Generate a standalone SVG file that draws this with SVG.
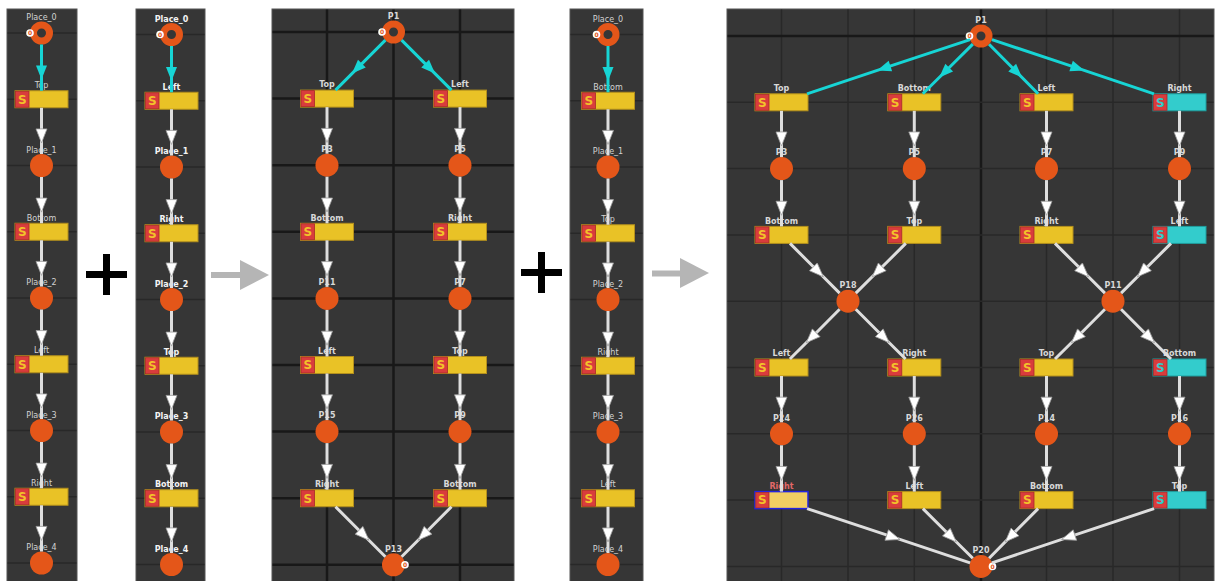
<svg xmlns="http://www.w3.org/2000/svg" width="1216" height="581" viewBox="0 0 1216 581">
<defs>
<style>
.bg{fill:#363636;stroke:#555;stroke-width:1}
.g{stroke:#282828;stroke-width:1.5}
.gk{stroke:#181818;stroke-width:2.5}
.pl{fill:#e45619}
.ring{fill:#363636;stroke:#e45619;stroke-width:7}
.tr{fill:#e9c226;stroke:#b38f1d;stroke-width:1}
.trc{fill:#33cccc;stroke:#1f9e9e;stroke-width:1}
.trh{fill:#f2cf62;stroke:#2424e0;stroke-width:1.5}
.sb{fill:#d93c3c;stroke:#a82a2a;stroke-width:0.8}
.s{font-family:'DejaVu Sans',sans-serif;font-weight:bold;font-size:12px;fill:#f2c22a;text-anchor:middle}
.sc{fill:#33cccc}
.lb{font-family:'DejaVu Sans',sans-serif;font-size:8px;fill:#d2d2d2;text-anchor:middle}
.lbb{font-family:'DejaVu Sans',sans-serif;font-weight:bold;font-size:8px;fill:#f4f4f4;text-anchor:middle}
.lbm{font-family:'DejaVu Sans',sans-serif;font-weight:bold;font-size:8px;fill:#d8d8d8;text-anchor:middle}
.lbr{fill:#e26868}
.w{stroke:#dedede;stroke-width:3;fill:none;marker-mid:url(#aw)}
.t{stroke:#17d5d5;stroke-width:3;fill:none;marker-mid:url(#at)}
.tok{fill:#ffffff}
.tokt{font-family:'DejaVu Sans',sans-serif;font-weight:bold;font-size:6px;fill:#e45619;text-anchor:middle}
.plus{fill:#000}
.garr{fill:#b5b5b5}
</style>
<marker id="aw" markerUnits="userSpaceOnUse" markerWidth="16" markerHeight="14" viewBox="0 0 16 14" refX="3" refY="7" orient="auto"><path d="M1,1.5 L15,7 L1,12.5 Z" fill="#ffffff" stroke="#9a9a9a" stroke-width="0.8"/></marker>
<marker id="at" markerUnits="userSpaceOnUse" markerWidth="16" markerHeight="14" viewBox="0 0 16 14" refX="3" refY="7" orient="auto"><path d="M1,1.5 L15,7 L1,12.5 Z" fill="#17d5d5"/></marker>
</defs>
<rect width="1216" height="581" fill="#ffffff"/>

<!-- panel backgrounds and grids -->
<g id="panels">
<rect class="bg" x="7" y="9" width="70" height="573"/>
<rect class="bg" x="136" y="9" width="69" height="573"/>
<rect class="bg" x="272" y="9" width="242" height="573"/>
<rect class="bg" x="570" y="9" width="73" height="573"/>
<rect class="bg" x="727" y="9" width="487" height="573"/>
<g id="grid1">
<line class="g" x1="7.5" y1="33" x2="76.5" y2="33"/><line class="g" x1="7.5" y1="99.25" x2="76.5" y2="99.25"/><line class="g" x1="7.5" y1="165.5" x2="76.5" y2="165.5"/><line class="g" x1="7.5" y1="231.75" x2="76.5" y2="231.75"/><line class="g" x1="7.5" y1="298" x2="76.5" y2="298"/><line class="g" x1="7.5" y1="364.25" x2="76.5" y2="364.25"/><line class="g" x1="7.5" y1="430.5" x2="76.5" y2="430.5"/><line class="g" x1="7.5" y1="496.75" x2="76.5" y2="496.75"/><line class="g" x1="7.5" y1="563" x2="76.5" y2="563"/>
</g>
<g id="grid2">
<line class="g" x1="136.5" y1="34.5" x2="204.5" y2="34.5"/><line class="g" x1="136.5" y1="100.75" x2="204.5" y2="100.75"/><line class="g" x1="136.5" y1="167" x2="204.5" y2="167"/><line class="g" x1="136.5" y1="233.25" x2="204.5" y2="233.25"/><line class="g" x1="136.5" y1="299.5" x2="204.5" y2="299.5"/><line class="g" x1="136.5" y1="365.75" x2="204.5" y2="365.75"/><line class="g" x1="136.5" y1="432" x2="204.5" y2="432"/><line class="g" x1="136.5" y1="498.25" x2="204.5" y2="498.25"/><line class="g" x1="136.5" y1="564.5" x2="204.5" y2="564.5"/>
</g>
<g id="grid4">
<line class="g" x1="570.5" y1="34.5" x2="642.5" y2="34.5"/><line class="g" x1="570.5" y1="100.75" x2="642.5" y2="100.75"/><line class="g" x1="570.5" y1="167" x2="642.5" y2="167"/><line class="g" x1="570.5" y1="233.25" x2="642.5" y2="233.25"/><line class="g" x1="570.5" y1="299.5" x2="642.5" y2="299.5"/><line class="g" x1="570.5" y1="365.75" x2="642.5" y2="365.75"/><line class="g" x1="570.5" y1="432" x2="642.5" y2="432"/><line class="g" x1="570.5" y1="498.25" x2="642.5" y2="498.25"/><line class="g" x1="570.5" y1="564.5" x2="642.5" y2="564.5"/>
</g>
<g id="grid3">
<line class="gk" x1="327" y1="9.5" x2="327" y2="581"/><line class="gk" x1="393.5" y1="9.5" x2="393.5" y2="581"/><line class="gk" x1="460" y1="9.5" x2="460" y2="581"/>
<line class="gk" x1="272.5" y1="32" x2="513.5" y2="32"/><line class="gk" x1="272.5" y1="98.6" x2="513.5" y2="98.6"/><line class="gk" x1="272.5" y1="165.2" x2="513.5" y2="165.2"/><line class="gk" x1="272.5" y1="231.8" x2="513.5" y2="231.8"/><line class="gk" x1="272.5" y1="298.4" x2="513.5" y2="298.4"/><line class="gk" x1="272.5" y1="365" x2="513.5" y2="365"/><line class="gk" x1="272.5" y1="431.6" x2="513.5" y2="431.6"/><line class="gk" x1="272.5" y1="498.2" x2="513.5" y2="498.2"/><line class="gk" x1="272.5" y1="564.8" x2="513.5" y2="564.8"/>
</g>
<g id="grid5">
<line class="g" x1="781.5" y1="9.5" x2="781.5" y2="581"/><line class="g" x1="848" y1="9.5" x2="848" y2="581"/><line class="g" x1="914.3" y1="9.5" x2="914.3" y2="581"/><line class="gk" x1="981" y1="9.5" x2="981" y2="581"/><line class="g" x1="1046.5" y1="9.5" x2="1046.5" y2="581"/><line class="g" x1="1113" y1="9.5" x2="1113" y2="581"/><line class="g" x1="1179.5" y1="9.5" x2="1179.5" y2="581"/>
<line class="gk" x1="727.5" y1="36" x2="1213.5" y2="36"/><line class="g" x1="727.5" y1="102.3" x2="1213.5" y2="102.3"/><line class="g" x1="727.5" y1="168.6" x2="1213.5" y2="168.6"/><line class="g" x1="727.5" y1="234.9" x2="1213.5" y2="234.9"/><line class="g" x1="727.5" y1="301.2" x2="1213.5" y2="301.2"/><line class="g" x1="727.5" y1="367.5" x2="1213.5" y2="367.5"/><line class="g" x1="727.5" y1="433.8" x2="1213.5" y2="433.8"/><line class="g" x1="727.5" y1="500.1" x2="1213.5" y2="500.1"/><line class="g" x1="727.5" y1="566.4" x2="1213.5" y2="566.4"/>
</g>
</g>

<!-- operators -->
<g id="plus1"><rect class="plus" x="86" y="271" width="41" height="7"/><rect class="plus" x="103" y="254" width="7" height="41"/></g>
<g id="plus2"><rect class="plus" x="521" y="269" width="41" height="7"/><rect class="plus" x="538" y="252" width="7" height="41"/></g>
<g id="arrow1"><rect class="garr" x="211" y="272" width="30" height="6"/><path class="garr" d="M240,260 L269,275 L240,290 Z"/></g>
<g id="arrow2"><rect class="garr" x="652" y="270.5" width="29" height="6"/><path class="garr" d="M680,258 L709,273 L680,288 Z"/></g>

<!-- ===== Panel 1 nodes ===== -->
<g id="a_place0"><text class="lb" x="41.5" y="20">Place_0</text><circle class="ring" cx="41.5" cy="33" r="8"/><circle class="tok" cx="30" cy="33" r="3.8"/><text class="tokt" x="30" y="35.2">0</text></g>
<g id="a_top"><text class="lb" x="41.5" y="88">Top</text><rect class="tr" x="15" y="90.75" width="53" height="17"/><rect class="sb" x="15.5" y="91.25" width="13.5" height="16"/><text class="s" x="22.25" y="103.6">S</text></g>
<g id="a_place1"><text class="lb" x="41.5" y="152.5">Place_1</text><circle class="pl" cx="41.5" cy="165.5" r="11.5"/></g>
<g id="a_bottom"><text class="lb" x="41.5" y="220.5">Bottom</text><rect class="tr" x="15" y="223.25" width="53" height="17"/><rect class="sb" x="15.5" y="223.75" width="13.5" height="16"/><text class="s" x="22.25" y="236.1">S</text></g>
<g id="a_place2"><text class="lb" x="41.5" y="285">Place_2</text><circle class="pl" cx="41.5" cy="298" r="11.5"/></g>
<g id="a_left"><text class="lb" x="41.5" y="353">Left</text><rect class="tr" x="15" y="355.75" width="53" height="17"/><rect class="sb" x="15.5" y="356.25" width="13.5" height="16"/><text class="s" x="22.25" y="368.6">S</text></g>
<g id="a_place3"><text class="lb" x="41.5" y="417.5">Place_3</text><circle class="pl" cx="41.5" cy="430.5" r="11.5"/></g>
<g id="a_right"><text class="lb" x="41.5" y="485.5">Right</text><rect class="tr" x="15" y="488.25" width="53" height="17"/><rect class="sb" x="15.5" y="488.75" width="13.5" height="16"/><text class="s" x="22.25" y="501.1">S</text></g>
<g id="a_place4"><text class="lb" x="41.5" y="550">Place_4</text><circle class="pl" cx="41.5" cy="563" r="11.5"/></g>

<!-- ===== Panel 2 nodes ===== -->
<g id="b_place0"><text class="lbb" x="171.5" y="21.5">Place_0</text><circle class="ring" cx="171.5" cy="34.5" r="8"/><circle class="tok" cx="160" cy="34.5" r="3.8"/><text class="tokt" x="160" y="36.7">0</text></g>
<g id="b_left"><text class="lbb" x="171.5" y="89.5">Left</text><rect class="tr" x="145" y="92.25" width="53" height="17"/><rect class="sb" x="145.5" y="92.75" width="13.5" height="16"/><text class="s" x="152.25" y="105.1">S</text></g>
<g id="b_place1"><text class="lbb" x="171.5" y="154">Place_1</text><circle class="pl" cx="171.5" cy="167" r="11.5"/></g>
<g id="b_right"><text class="lbb" x="171.5" y="222">Right</text><rect class="tr" x="145" y="224.75" width="53" height="17"/><rect class="sb" x="145.5" y="225.25" width="13.5" height="16"/><text class="s" x="152.25" y="237.6">S</text></g>
<g id="b_place2"><text class="lbb" x="171.5" y="286.5">Place_2</text><circle class="pl" cx="171.5" cy="299.5" r="11.5"/></g>
<g id="b_top"><text class="lbb" x="171.5" y="354.5">Top</text><rect class="tr" x="145" y="357.25" width="53" height="17"/><rect class="sb" x="145.5" y="357.75" width="13.5" height="16"/><text class="s" x="152.25" y="370.1">S</text></g>
<g id="b_place3"><text class="lbb" x="171.5" y="419">Place_3</text><circle class="pl" cx="171.5" cy="432" r="11.5"/></g>
<g id="b_bottom"><text class="lbb" x="171.5" y="487">Bottom</text><rect class="tr" x="145" y="489.75" width="53" height="17"/><rect class="sb" x="145.5" y="490.25" width="13.5" height="16"/><text class="s" x="152.25" y="502.6">S</text></g>
<g id="b_place4"><text class="lbb" x="171.5" y="551.5">Place_4</text><circle class="pl" cx="171.5" cy="564.5" r="11.5"/></g>

<!-- ===== Panel 3 nodes ===== -->
<g id="c_p1"><text class="lbm" x="393.5" y="18.5">P1</text><circle class="ring" cx="393.5" cy="32" r="8"/><circle class="tok" cx="382" cy="32" r="3.8"/><text class="tokt" x="382" y="34.2">0</text></g>
<g id="c_top"><text class="lbm" x="327" y="87.3">Top</text><rect class="tr" x="300.5" y="90.1" width="53" height="17"/><rect class="sb" x="301" y="90.6" width="13.5" height="16"/><text class="s" x="307.75" y="102.9">S</text></g>
<g id="c_left1"><text class="lbm" x="460" y="87.3">Left</text><rect class="tr" x="433.5" y="90.1" width="53" height="17"/><rect class="sb" x="434" y="90.6" width="13.5" height="16"/><text class="s" x="440.75" y="102.9">S</text></g>
<g id="c_p3"><text class="lbm" x="327" y="152">P3</text><circle class="pl" cx="327" cy="165.2" r="11.5"/></g>
<g id="c_p5"><text class="lbm" x="460" y="152">P5</text><circle class="pl" cx="460" cy="165.2" r="11.5"/></g>
<g id="c_bottom1"><text class="lbm" x="327" y="220.5">Bottom</text><rect class="tr" x="300.5" y="223.3" width="53" height="17"/><rect class="sb" x="301" y="223.8" width="13.5" height="16"/><text class="s" x="307.75" y="236.1">S</text></g>
<g id="c_right1"><text class="lbm" x="460" y="220.5">Right</text><rect class="tr" x="433.5" y="223.3" width="53" height="17"/><rect class="sb" x="434" y="223.8" width="13.5" height="16"/><text class="s" x="440.75" y="236.1">S</text></g>
<g id="c_p11"><text class="lbm" x="327" y="285.2">P11</text><circle class="pl" cx="327" cy="298.4" r="11.5"/></g>
<g id="c_p7"><text class="lbm" x="460" y="285.2">P7</text><circle class="pl" cx="460" cy="298.4" r="11.5"/></g>
<g id="c_left2"><text class="lbm" x="327" y="353.7">Left</text><rect class="tr" x="300.5" y="356.5" width="53" height="17"/><rect class="sb" x="301" y="357" width="13.5" height="16"/><text class="s" x="307.75" y="369.3">S</text></g>
<g id="c_top2"><text class="lbm" x="460" y="353.7">Top</text><rect class="tr" x="433.5" y="356.5" width="53" height="17"/><rect class="sb" x="434" y="357" width="13.5" height="16"/><text class="s" x="440.75" y="369.3">S</text></g>
<g id="c_p15"><text class="lbm" x="327" y="418.4">P15</text><circle class="pl" cx="327" cy="431.6" r="11.5"/></g>
<g id="c_p9"><text class="lbm" x="460" y="418.4">P9</text><circle class="pl" cx="460" cy="431.6" r="11.5"/></g>
<g id="c_right2"><text class="lbm" x="327" y="486.9">Right</text><rect class="tr" x="300.5" y="489.7" width="53" height="17"/><rect class="sb" x="301" y="490.2" width="13.5" height="16"/><text class="s" x="307.75" y="502.5">S</text></g>
<g id="c_bottom2"><text class="lbm" x="460" y="486.9">Bottom</text><rect class="tr" x="433.5" y="489.7" width="53" height="17"/><rect class="sb" x="434" y="490.2" width="13.5" height="16"/><text class="s" x="440.75" y="502.5">S</text></g>
<g id="c_p13"><text class="lbm" x="393.5" y="551.6">P13</text><circle class="pl" cx="393.5" cy="564.8" r="11.5"/><circle class="tok" cx="405" cy="564.8" r="3.8"/><text class="tokt" x="405" y="567">0</text></g>

<!-- ===== Panel 4 nodes ===== -->
<g id="d_place0"><text class="lb" x="608" y="21.5">Place_0</text><circle class="ring" cx="608" cy="34.5" r="8"/><circle class="tok" cx="596.5" cy="34.5" r="3.8"/><text class="tokt" x="596.5" y="36.7">0</text></g>
<g id="d_bottom"><text class="lb" x="608" y="89.5">Bottom</text><rect class="tr" x="581.5" y="92.25" width="53" height="17"/><rect class="sb" x="582" y="92.75" width="13.5" height="16"/><text class="s" x="588.75" y="105.1">S</text></g>
<g id="d_place1"><text class="lb" x="608" y="154">Place_1</text><circle class="pl" cx="608" cy="167" r="11.5"/></g>
<g id="d_top"><text class="lb" x="608" y="222">Top</text><rect class="tr" x="581.5" y="224.75" width="53" height="17"/><rect class="sb" x="582" y="225.25" width="13.5" height="16"/><text class="s" x="588.75" y="237.6">S</text></g>
<g id="d_place2"><text class="lb" x="608" y="286.5">Place_2</text><circle class="pl" cx="608" cy="299.5" r="11.5"/></g>
<g id="d_right"><text class="lb" x="608" y="354.5">Right</text><rect class="tr" x="581.5" y="357.25" width="53" height="17"/><rect class="sb" x="582" y="357.75" width="13.5" height="16"/><text class="s" x="588.75" y="370.1">S</text></g>
<g id="d_place3"><text class="lb" x="608" y="419">Place_3</text><circle class="pl" cx="608" cy="432" r="11.5"/></g>
<g id="d_left"><text class="lb" x="608" y="487">Left</text><rect class="tr" x="581.5" y="489.75" width="53" height="17"/><rect class="sb" x="582" y="490.25" width="13.5" height="16"/><text class="s" x="588.75" y="502.6">S</text></g>
<g id="d_place4"><text class="lb" x="608" y="551.5">Place_4</text><circle class="pl" cx="608" cy="564.5" r="11.5"/></g>

<!-- ===== Panel 5 nodes ===== -->
<g id="e_p1"><text class="lbm" x="981" y="22.5">P1</text><circle class="ring" cx="981" cy="36" r="8"/><circle class="tok" cx="969.5" cy="36" r="3.8"/><text class="tokt" x="969.5" y="38.2">0</text></g>
<g id="e_top1"><text class="lbm" x="781.5" y="91">Top</text><rect class="tr" x="755" y="93.8" width="53" height="17"/><rect class="sb" x="755.5" y="94.3" width="13.5" height="16"/><text class="s" x="762.25" y="106.6">S</text></g>
<g id="e_bottom1"><text class="lbm" x="914.3" y="91">Bottom</text><rect class="tr" x="887.8" y="93.8" width="53" height="17"/><rect class="sb" x="888.3" y="94.3" width="13.5" height="16"/><text class="s" x="895.05" y="106.6">S</text></g>
<g id="e_left1"><text class="lbm" x="1046.5" y="91">Left</text><rect class="tr" x="1020" y="93.8" width="53" height="17"/><rect class="sb" x="1020.5" y="94.3" width="13.5" height="16"/><text class="s" x="1027.25" y="106.6">S</text></g>
<g id="e_right1"><text class="lbm" x="1179.5" y="91">Right</text><rect class="trc" x="1153" y="93.8" width="53" height="17"/><rect class="sb" x="1153.5" y="94.3" width="13.5" height="16"/><text class="s sc" x="1160.25" y="106.6">S</text></g>
<g id="e_p3"><text class="lbm" x="781.5" y="155.4">P3</text><circle class="pl" cx="781.5" cy="168.6" r="11.5"/></g>
<g id="e_p5"><text class="lbm" x="914.3" y="155.4">P5</text><circle class="pl" cx="914.3" cy="168.6" r="11.5"/></g>
<g id="e_p7"><text class="lbm" x="1046.5" y="155.4">P7</text><circle class="pl" cx="1046.5" cy="168.6" r="11.5"/></g>
<g id="e_p9"><text class="lbm" x="1179.5" y="155.4">P9</text><circle class="pl" cx="1179.5" cy="168.6" r="11.5"/></g>
<g id="e_bottom2"><text class="lbm" x="781.5" y="223.6">Bottom</text><rect class="tr" x="755" y="226.4" width="53" height="17"/><rect class="sb" x="755.5" y="226.9" width="13.5" height="16"/><text class="s" x="762.25" y="239.2">S</text></g>
<g id="e_top2"><text class="lbm" x="914.3" y="223.6">Top</text><rect class="tr" x="887.8" y="226.4" width="53" height="17"/><rect class="sb" x="888.3" y="226.9" width="13.5" height="16"/><text class="s" x="895.05" y="239.2">S</text></g>
<g id="e_right2"><text class="lbm" x="1046.5" y="223.6">Right</text><rect class="tr" x="1020" y="226.4" width="53" height="17"/><rect class="sb" x="1020.5" y="226.9" width="13.5" height="16"/><text class="s" x="1027.25" y="239.2">S</text></g>
<g id="e_left2"><text class="lbm" x="1179.5" y="223.6">Left</text><rect class="trc" x="1153" y="226.4" width="53" height="17"/><rect class="sb" x="1153.5" y="226.9" width="13.5" height="16"/><text class="s sc" x="1160.25" y="239.2">S</text></g>
<g id="e_p18"><text class="lbm" x="848" y="288">P18</text><circle class="pl" cx="848" cy="301.2" r="11.5"/></g>
<g id="e_p11"><text class="lbm" x="1113" y="288">P11</text><circle class="pl" cx="1113" cy="301.2" r="11.5"/></g>
<g id="e_left3"><text class="lbm" x="781.5" y="356.2">Left</text><rect class="tr" x="755" y="359" width="53" height="17"/><rect class="sb" x="755.5" y="359.5" width="13.5" height="16"/><text class="s" x="762.25" y="371.8">S</text></g>
<g id="e_right3"><text class="lbm" x="914.3" y="356.2">Right</text><rect class="tr" x="887.8" y="359" width="53" height="17"/><rect class="sb" x="888.3" y="359.5" width="13.5" height="16"/><text class="s" x="895.05" y="371.8">S</text></g>
<g id="e_top3"><text class="lbm" x="1046.5" y="356.2">Top</text><rect class="tr" x="1020" y="359" width="53" height="17"/><rect class="sb" x="1020.5" y="359.5" width="13.5" height="16"/><text class="s" x="1027.25" y="371.8">S</text></g>
<g id="e_bottom3"><text class="lbm" x="1179.5" y="356.2">Bottom</text><rect class="trc" x="1153" y="359" width="53" height="17"/><rect class="sb" x="1153.5" y="359.5" width="13.5" height="16"/><text class="s sc" x="1160.25" y="371.8">S</text></g>
<g id="e_p24"><text class="lbm" x="781.5" y="420.6">P24</text><circle class="pl" cx="781.5" cy="433.8" r="11.5"/></g>
<g id="e_p26"><text class="lbm" x="914.3" y="420.6">P26</text><circle class="pl" cx="914.3" cy="433.8" r="11.5"/></g>
<g id="e_p14"><text class="lbm" x="1046.5" y="420.6">P14</text><circle class="pl" cx="1046.5" cy="433.8" r="11.5"/></g>
<g id="e_p16"><text class="lbm" x="1179.5" y="420.6">P16</text><circle class="pl" cx="1179.5" cy="433.8" r="11.5"/></g>
<g id="e_right4"><text class="lbm lbr" x="781.5" y="488.8">Right</text><rect class="trh" x="755" y="491.6" width="53" height="17"/><rect class="sb" x="755.8" y="492.4" width="13.2" height="15.4"/><text class="s" x="762.25" y="504.4">S</text></g>
<g id="e_left4"><text class="lbm" x="914.3" y="488.8">Left</text><rect class="tr" x="887.8" y="491.6" width="53" height="17"/><rect class="sb" x="888.3" y="492.1" width="13.5" height="16"/><text class="s" x="895.05" y="504.4">S</text></g>
<g id="e_bottom4"><text class="lbm" x="1046.5" y="488.8">Bottom</text><rect class="tr" x="1020" y="491.6" width="53" height="17"/><rect class="sb" x="1020.5" y="492.1" width="13.5" height="16"/><text class="s" x="1027.25" y="504.4">S</text></g>
<g id="e_top4"><text class="lbm" x="1179.5" y="488.8">Top</text><rect class="trc" x="1153" y="491.6" width="53" height="17"/><rect class="sb" x="1153.5" y="492.1" width="13.5" height="16"/><text class="s sc" x="1160.25" y="504.4">S</text></g>
<g id="e_p20"><text class="lbm" x="981" y="553.2">P20</text><circle class="pl" cx="981" cy="566.4" r="11.5"/><circle class="tok" cx="992.5" cy="566.4" r="3.8"/><text class="tokt" x="992.5" y="568.6">0</text></g>

<!-- ===== connectors ===== -->
<g id="connectors">
<!-- panel 1 -->
<path class="t" d="M41.5,44.5 L41.5,67.6 L41.5,90.75"/>
<path class="w" d="M41.5,107.75 L41.5,130.9 L41.5,154"/>
<path class="w" d="M41.5,177 L41.5,200.1 L41.5,223.25"/>
<path class="w" d="M41.5,240.25 L41.5,263.4 L41.5,286.5"/>
<path class="w" d="M41.5,309.5 L41.5,332.6 L41.5,355.75"/>
<path class="w" d="M41.5,372.75 L41.5,395.9 L41.5,419"/>
<path class="w" d="M41.5,442 L41.5,465.1 L41.5,488.25"/>
<path class="w" d="M41.5,505.25 L41.5,528.4 L41.5,551.5"/>
<!-- panel 2 -->
<path class="t" d="M171.5,46 L171.5,69.1 L171.5,92.25"/>
<path class="w" d="M171.5,109.25 L171.5,132.4 L171.5,155.5"/>
<path class="w" d="M171.5,178.5 L171.5,201.6 L171.5,224.75"/>
<path class="w" d="M171.5,241.75 L171.5,264.9 L171.5,288"/>
<path class="w" d="M171.5,311 L171.5,334.1 L171.5,357.25"/>
<path class="w" d="M171.5,374.25 L171.5,397.4 L171.5,420.5"/>
<path class="w" d="M171.5,443.5 L171.5,466.6 L171.5,489.75"/>
<path class="w" d="M171.5,506.75 L171.5,529.9 L171.5,553"/>
<!-- panel 4 -->
<path class="t" d="M608,46 L608,69.1 L608,92.25"/>
<path class="w" d="M608,109.25 L608,132.4 L608,155.5"/>
<path class="w" d="M608,178.5 L608,201.6 L608,224.75"/>
<path class="w" d="M608,241.75 L608,264.9 L608,288"/>
<path class="w" d="M608,311 L608,334.1 L608,357.25"/>
<path class="w" d="M608,374.25 L608,397.4 L608,420.5"/>
<path class="w" d="M608,443.5 L608,466.6 L608,489.75"/>
<path class="w" d="M608,506.75 L608,529.9 L608,553"/>
<!-- panel 3 -->
<path class="t" d="M385.4,40.1 L360.45,65.1 L335.5,90.1"/>
<path class="t" d="M401.6,40.1 L426.55,65.1 L451.5,90.1"/>
<path class="w" d="M327,107.1 L327,130.4 L327,153.7"/>
<path class="w" d="M460,107.1 L460,130.4 L460,153.7"/>
<path class="w" d="M327,176.7 L327,200 L327,223.3"/>
<path class="w" d="M460,176.7 L460,200 L460,223.3"/>
<path class="w" d="M327,240.3 L327,263.6 L327,286.9"/>
<path class="w" d="M460,240.3 L460,263.6 L460,286.9"/>
<path class="w" d="M327,309.9 L327,333.2 L327,356.5"/>
<path class="w" d="M460,309.9 L460,333.2 L460,356.5"/>
<path class="w" d="M327,373.5 L327,396.8 L327,420.1"/>
<path class="w" d="M460,373.5 L460,396.8 L460,420.1"/>
<path class="w" d="M327,443.1 L327,466.4 L327,489.7"/>
<path class="w" d="M460,443.1 L460,466.4 L460,489.7"/>
<path class="w" d="M335.5,506.7 L360.45,531.7 L385.4,556.7"/>
<path class="w" d="M451.5,506.7 L426.55,531.7 L401.6,556.7"/>
<!-- panel 5 -->
<path class="t" d="M970.1,39.6 L888.5,66.7 L807,93.8"/>
<path class="t" d="M972.8,44.1 L947.8,69 L922.8,93.8"/>
<path class="t" d="M989.1,44.2 L1013.6,69 L1038.1,93.8"/>
<path class="t" d="M991.9,39.6 L1073,66.7 L1154,93.8"/>
<path class="w" d="M781.5,110.8 L781.5,133.95 L781.5,157.1"/>
<path class="w" d="M914.3,110.8 L914.3,133.95 L914.3,157.1"/>
<path class="w" d="M1046.5,110.8 L1046.5,133.95 L1046.5,157.1"/>
<path class="w" d="M1179.5,110.8 L1179.5,133.95 L1179.5,157.1"/>
<path class="w" d="M781.5,180.1 L781.5,203.25 L781.5,226.4"/>
<path class="w" d="M914.3,180.1 L914.3,203.25 L914.3,226.4"/>
<path class="w" d="M1046.5,180.1 L1046.5,203.25 L1046.5,226.4"/>
<path class="w" d="M1179.5,180.1 L1179.5,203.25 L1179.5,226.4"/>
<path class="w" d="M790,243.4 L814.8,268.3 L839.6,293.1"/>
<path class="w" d="M905.8,243.4 L880.8,268.3 L855.8,293.1"/>
<path class="w" d="M1055,243.4 L1080,268.3 L1104.9,293.1"/>
<path class="w" d="M1171,243.4 L1146,268.3 L1121.1,293.1"/>
<path class="w" d="M839.6,309.3 L814.8,334.2 L789.9,359"/>
<path class="w" d="M855.8,309.3 L880.7,334.2 L905.6,359"/>
<path class="w" d="M1104.9,309.3 L1080,334.2 L1055,359"/>
<path class="w" d="M1121.1,309.3 L1146,334.2 L1171,359"/>
<path class="w" d="M781.5,376 L781.5,399.15 L781.5,422.3"/>
<path class="w" d="M914.3,376 L914.3,399.15 L914.3,422.3"/>
<path class="w" d="M1046.5,376 L1046.5,399.15 L1046.5,422.3"/>
<path class="w" d="M1179.5,376 L1179.5,399.15 L1179.5,422.3"/>
<path class="w" d="M781.5,445.3 L781.5,468.45 L781.5,491.6"/>
<path class="w" d="M914.3,445.3 L914.3,468.45 L914.3,491.6"/>
<path class="w" d="M1046.5,445.3 L1046.5,468.45 L1046.5,491.6"/>
<path class="w" d="M1179.5,445.3 L1179.5,468.45 L1179.5,491.6"/>
<path class="w" d="M807.1,508.6 L888.6,535.7 L970.1,562.8"/>
<path class="w" d="M922.9,508.6 L947.8,533.5 L972.8,558.3"/>
<path class="w" d="M1038.1,508.6 L1013.6,533.4 L989.1,558.2"/>
<path class="w" d="M1154.1,508.6 L1073,535.7 L991.9,562.8"/>
</g>
</svg>
